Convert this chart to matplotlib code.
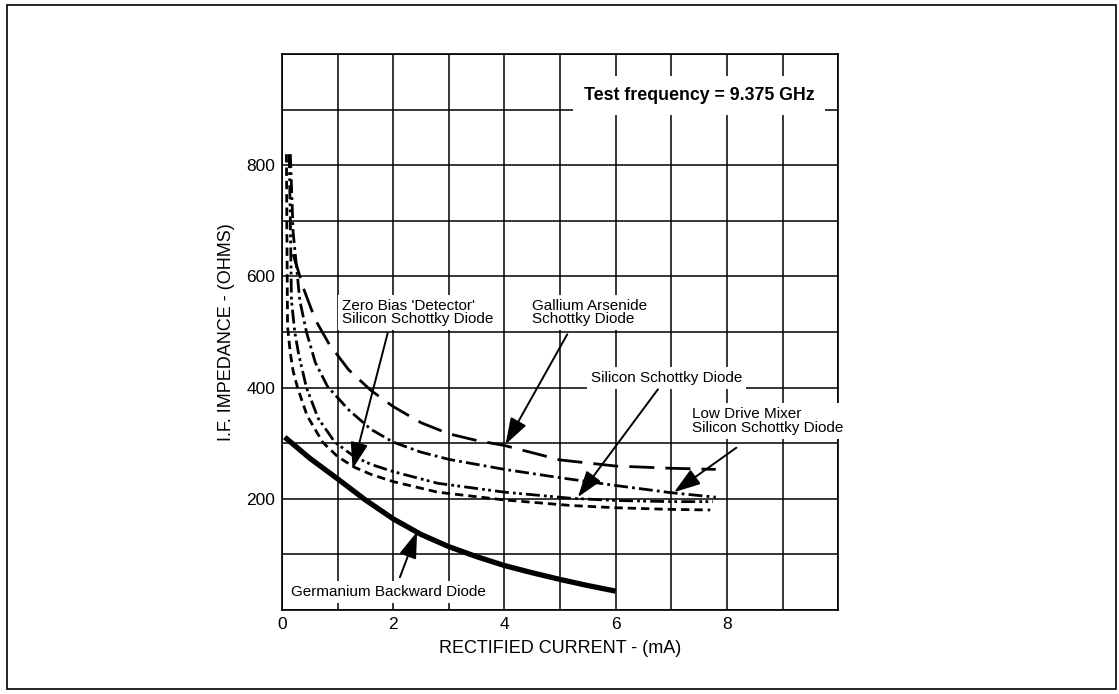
import matplotlib
matplotlib.use("Agg")
import matplotlib.pyplot as plt
import matplotlib.patches as mpatches
import numpy as np

plt.rcParams['font.family'] = ['Liberation Sans', 'DejaVu Sans']

# rectified current (mA) vs I.F. impedance (ohms)
gaas_x = [0.2, 0.4, 0.6, 0.85, 1.2, 1.6, 2.0, 2.5, 3.0, 3.5, 4.0, 5.0, 6.0, 7.0, 7.8]
gaas_y = [640, 575, 522, 478, 432, 395, 366, 337, 317, 305, 296, 270, 259, 255, 253]

lowdrive_x = [0.15, 0.2, 0.32, 0.44, 0.6, 0.82, 1.2, 1.6, 2.0, 2.5, 3.0, 4.0, 5.0, 6.0, 7.0, 7.8]
lowdrive_y = [820, 680, 557, 500, 445, 402, 360, 325, 302, 284, 271, 253, 238, 224, 211, 203]

sisch_x = [0.13, 0.15, 0.17, 0.23, 0.3, 0.44, 0.65, 0.95, 1.3, 1.6, 2.0, 2.8, 4.0, 5.2, 6.0, 7.0, 7.75]
sisch_y = [820, 700, 557, 500, 460, 400, 345, 302, 276, 262, 249, 228, 212, 201, 197, 195, 195]

zerobias_x = [0.08, 0.09, 0.1, 0.15, 0.2, 0.28, 0.45, 0.73, 1.0, 1.3, 1.6, 2.0, 2.8, 4.0, 5.2, 6.0, 7.0, 7.7]
zerobias_y = [820, 650, 510, 462, 430, 400, 350, 302, 276, 257, 244, 231, 212, 198, 188, 184, 181, 180]

germ_x = [0.05, 0.5, 1.0, 1.5, 2.0, 2.5, 3.0, 3.5, 4.0, 4.5, 5.0, 5.5, 6.0]
germ_y = [311, 273, 236, 198, 164, 136, 114, 96, 80, 67, 55, 44, 34]

fig = plt.figure(figsize=(11.19, 6.94), dpi=100)
ax = fig.add_axes([0.252, 0.121, 0.497, 0.801])

ax.plot(gaas_x, gaas_y, color='black', lw=2, dashes=(9, 4), zorder=3)
ax.plot(lowdrive_x, lowdrive_y, color='black', lw=2, dashes=(5, 1.5, 1, 1.5), zorder=3)
ax.plot(sisch_x, sisch_y, color='black', lw=2, dashes=(5, 1.5, 1, 1.2, 1, 1.5), zorder=3)
ax.plot(zerobias_x, zerobias_y, color='black', lw=2, dashes=(3, 1.8), zorder=3)
ax.plot(germ_x, germ_y, color='black', lw=3.8, solid_capstyle='butt', zorder=3)

ax.set_xlim(0, 10)
ax.set_ylim(0, 1000)
ax.set_xticks(np.arange(0, 11, 1))
ax.set_xticklabels(['0', '', '2', '', '4', '', '6', '', '8', '', ''])
ax.set_yticks(np.arange(0, 1001, 100))
ax.set_yticklabels(['', '', '200', '', '400', '', '600', '', '800', '', ''])
ax.tick_params(length=0, pad=5, labelsize=12.5)
ax.grid(True, color='black', lw=1.1, zorder=1)
ax.set_axisbelow(True)
for s in ax.spines.values():
    s.set_linewidth(1.2)

ax.set_xlabel('RECTIFIED CURRENT - (mA)', fontsize=13, labelpad=6)
ax.set_ylabel('I.F. IMPEDANCE - (OHMS)', fontsize=13, labelpad=8)

box = dict(facecolor='white', edgecolor='none', pad=3)
ax.text(7.5, 926, 'Test frequency = 9.375 GHz', fontsize=12.8, fontweight='bold',
        ha='center', va='center', bbox=dict(facecolor='white', edgecolor='none', pad=8), zorder=5)

ax.text(1.08, 535, "Zero Bias 'Detector'\nSilicon Schottky Diode", fontsize=11,
        ha='left', va='center', linespacing=0.95, bbox=box, zorder=5)
ax.text(4.5, 535, "Gallium Arsenide\nSchottky Diode", fontsize=11,
        ha='left', va='center', linespacing=0.95, bbox=box, zorder=5)
ax.text(5.55, 418, "Silicon Schottky Diode", fontsize=11,
        ha='left', va='center', bbox=box, zorder=5)
ax.text(7.38, 340, "Low Drive Mixer\nSilicon Schottky Diode", fontsize=11,
        ha='left', va='center', linespacing=0.95, bbox=box, zorder=5, clip_on=False)
ax.text(0.17, 32, "Germanium Backward Diode", fontsize=11,
        ha='left', va='center', bbox=box, zorder=5)

arrow = dict(arrowstyle='-|>,head_length=0.9,head_width=0.3', color='black', lw=1.4,
             shrinkA=0, shrinkB=0, mutation_scale=18)
ax.annotate('', xy=(1.27, 254), xytext=(1.9, 498), arrowprops=arrow, zorder=6)
ax.annotate('', xy=(4.02, 298), xytext=(5.13, 496), arrowprops=arrow, zorder=6)
ax.annotate('', xy=(5.32, 203), xytext=(6.76, 397), arrowprops=arrow, zorder=6)
ax.annotate('', xy=(7.05, 212), xytext=(8.17, 292), arrowprops=arrow, zorder=6)
ax.annotate('', xy=(2.43, 141), xytext=(2.12, 59), arrowprops=arrow, zorder=6)

fig.patches.append(mpatches.Rectangle((7 / 1119, 1 - 689 / 694), 1109 / 1119, 684 / 694,
                                      transform=fig.transFigure, fill=False,
                                      edgecolor='black', lw=1.2))

fig.savefig('out.png', dpi=100)
